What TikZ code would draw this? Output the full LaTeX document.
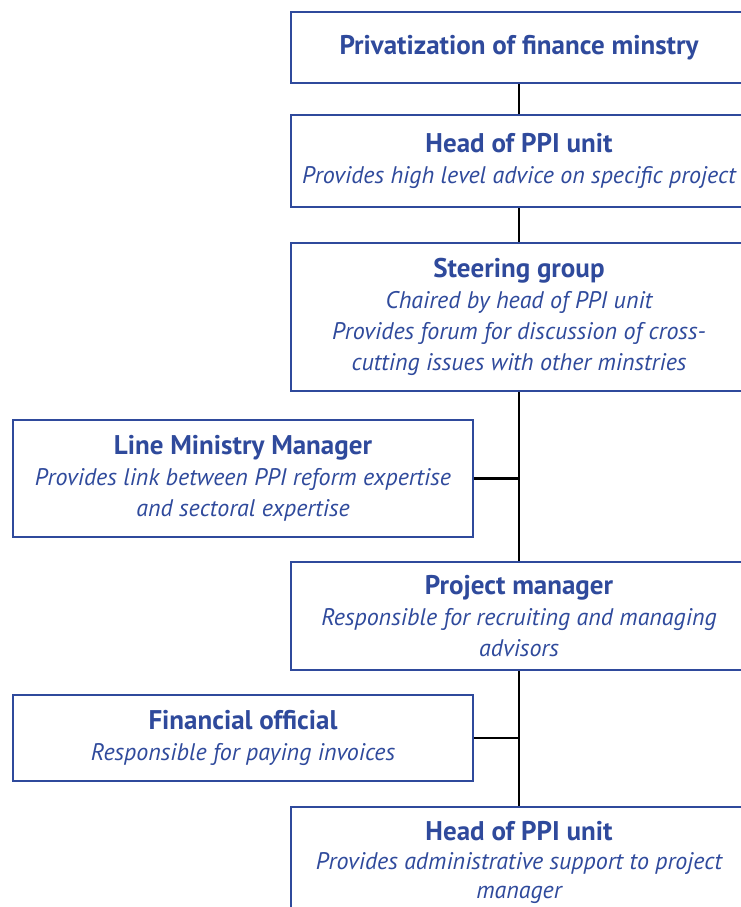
\documentclass[tikz,border=0pt]{standalone}
\usepackage{fontspec}
\setmainfont{PT Sans}
\definecolor{orgblue}{HTML}{2F4A9C}
\begin{document}
\begin{tikzpicture}[x=1pt,y=-1pt,
  box/.style={draw=orgblue,line width=1.6pt,fill=white,text=orgblue,
    align=center,inner sep=0pt,font=\fontsize{24}{31}\selectfont\itshape},
  mainbox/.style={box,minimum width=456pt},
  sidebox/.style={box,minimum width=460pt},
  link/.style={draw=black,line width=2.4pt}]
\useasboundingbox (0,0) rectangle (741,907);
\clip (0,0) rectangle (741,907);
\newcommand{\hd}[1]{{\fontsize{27}{31}\selectfont\bfseries\upshape #1}}

% main column
\node[mainbox,minimum height=71pt] (top) at (519,47.5)
  {\hd{Privatization of finance minstry}};
\node[mainbox,minimum height=92pt] (headA) at (519,161)
  {\hd{Head of PPI unit}\\Provides high level advice on specific project};
\node[mainbox,minimum height=148pt] (steer) at (519,317)
  {\hd{Steering group}\\Chaired by head of PPI unit\\Provides forum for discussion of cross-\\cutting issues with other minstries};
\node[mainbox,minimum height=108pt] (pm) at (519,616)
  {\hd{Project manager}\\Responsible for recruiting and managing\\advisors};
\node[mainbox,minimum height=112pt,anchor=north,
      font=\fontsize{24}{29}\selectfont\itshape] (headB) at (519,806)
  {\hd{Head of PPI unit}\\Provides administrative support to project\\manager};

% side boxes
\node[sidebox,minimum height=117pt] (lm) at (243,478.5)
  {\hd{Line Ministry Manager}\\Provides link between PPI reform expertise\\and sectoral expertise};
\node[sidebox,minimum height=86pt] (fo) at (243,738)
  {\hd{Financial official}\\Responsible for paying invoices};

% connectors
\draw[link] (top.south) -- (headA.north);
\draw[link] (headA.south) -- (steer.north);
\draw[link] (steer.south) -- (pm.north);
\draw[link] (pm.south) -- (headB.north);
\draw[link] (lm.east) -- (lm.east -| steer.south);
\draw[link] (fo.east) -- (fo.east -| pm.south);
\end{tikzpicture}
\end{document}
